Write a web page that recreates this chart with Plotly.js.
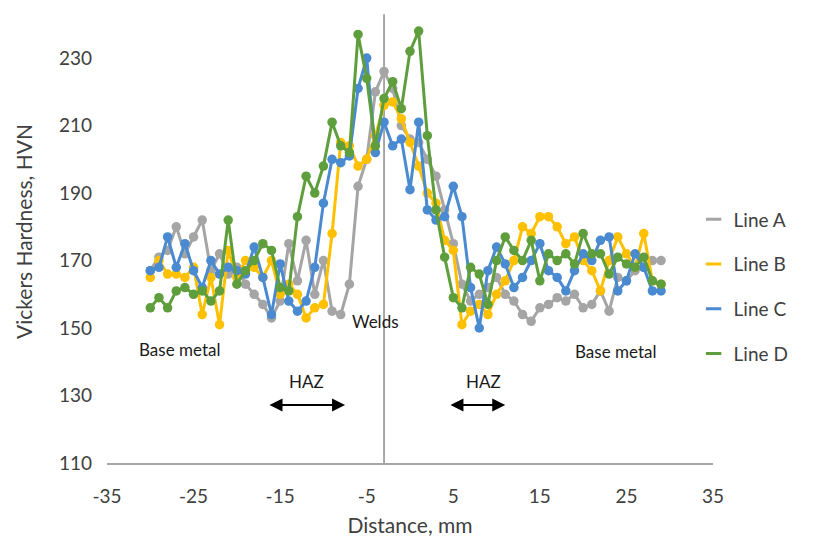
<!DOCTYPE html>
<html>
<head>
<meta charset="utf-8">
<script src="https://cdn.plot.ly/plotly-3.0.1.min.js"></script>
<style>html,body{margin:0;padding:0;background:#fff;}#chart{width:813px;height:546px;}</style>
</head>
<body>
<div id="chart"></div>
<script>
// Distance (mm) of every hardness indent
const distance = [-30,-29,-28,-27,-26,-25,-24,-23,-22,-21,-20,-19,-18,-17,-16,-15,-14,-13,-12,-11,-10,-9,-8,-7,-6,-5,-4,-3,-2,-1,0,1,2,3,4,5,6,7,8,9,10,11,12,13,14,15,16,17,18,19,20,21,22,23,24,25,26,27,28,29];

const lineA = [167,171,173,180,172,177,182,167,172,166,168,163,160,157,153,158,175,164,176,160,170,155,154,163,192,200,220,226,221,210,206,205,200,195,185,175,163,158,160,162,165,160,158,154,152,156,157,159,158,160,156,157,161,155,165,164,167,168,170,170];
const lineB = [165,170,166,166,165,168,154,165,151,173,165,170,168,165,170,160,163,160,153,156,157,178,205,204,198,200,207,216,217,212,205,198,190,187,176,173,151,155,157,154,160,164,170,180,178,183,183,180,175,177,170,167,161,170,177,172,168,178,164,163];
const lineC = [167,168,177,168,175,167,162,170,166,168,167,166,174,165,154,169,158,155,158,168,187,200,199,201,221,230,202,211,204,206,191,211,185,182,183,192,183,162,150,167,174,169,162,165,170,175,167,165,161,167,172,170,176,177,161,164,172,168,161,161];
const lineD = [156,159,156,161,162,160,161,158,161,182,163,167,170,175,173,162,161,183,195,190,198,211,204,202,237,224,204,218,223,215,232,238,207,185,171,159,156,168,166,157,170,177,173,170,176,164,172,170,172,169,178,172,172,166,171,169,168,171,164,163];

const seriesNames = ['Line A','Line B','Line C','Line D'];
const seriesValues = [lineA, lineB, lineC, lineD];
const seriesColors = ['#A5A5A5','#FFC000','#4A8AD0','#5E9E3C'];

const xTicks = [-35,-25,-15,-5,5,15,25,35];
const yTicks = [110,130,150,170,190,210,230];

const FONT = 'Lato, "Open Sans", sans-serif';

const traces = [];
seriesValues.forEach((vals, i) => {
  traces.push({
    x: distance, y: vals, type: 'scatter', mode: 'lines+markers',
    name: seriesNames[i], showlegend: false,
    line: {color: seriesColors[i], width: 3},
    marker: {color: seriesColors[i], size: 9.5, symbol: 'circle'},
    hoverinfo: 'x+y+name'
  });
});
// legend entries (short line keys)
seriesNames.forEach((n, i) => {
  traces.push({
    x: [null], y: [null], type: 'scatter', mode: 'markers', name: n,
    legendgroup: n, showlegend: true,
    marker: {symbol: 'line-ew', size: 11, color: seriesColors[i], line: {color: seriesColors[i], width: 3}}
  });
});

const annText = {size: 17, color: '#1a1a1a', family: FONT};
const layout = {
  width: 813, height: 546,
  margin: {l: 107, r: 100, t: 0, b: 83},
  paper_bgcolor: '#fff', plot_bgcolor: '#fff',
  font: {family: FONT, color: '#404040'},
  showlegend: true,
  legend: {x: 0.968, xanchor: 'left', y: 0.567, yanchor: 'top', traceorder: 'grouped', tracegroupgap: 17,
           font: {size: 19, color: '#404040', family: FONT}, bgcolor: 'rgba(0,0,0,0)'},
  xaxis: {range: [-35, 35], tickvals: xTicks, ticktext: xTicks.map(String), showgrid: false, zeroline: false,
          showline: true, linecolor: '#A6A6A6', linewidth: 1.5, ticks: '', ticklabelstandoff: 16,
          tickfont: {size: 19, color: '#404040'},
          title: {text: 'Distance, mm', font: {size: 21, color: '#404040'}, standoff: 12}},
  yaxis: {range: [110, 247.2], tickvals: yTicks, ticktext: yTicks.map(String), showgrid: false, zeroline: false,
          showline: false, ticks: '', ticklabelstandoff: 14,
          tickfont: {size: 19, color: '#404040'},
          title: {text: 'Vickers Hardness, HVN', font: {size: 21, color: '#404040'}, standoff: 20}},
  shapes: [{type: 'line', xref: 'x', yref: 'y', x0: -3, x1: -3, y0: 110, y1: 243, line: {color: '#8C8C8C', width: 1.5}, layer: 'below'}],
  annotations: [
    {x: -26.6, y: 143.5, xref: 'x', yref: 'y', text: 'Base metal', showarrow: false, font: annText},
    {x: 23.7, y: 142.9, xref: 'x', yref: 'y', text: 'Base metal', showarrow: false, font: annText},
    {x: -4.0, y: 151.8, xref: 'x', yref: 'y', text: 'Welds', showarrow: false, font: annText},
    {x: -11.9, y: 134.3, xref: 'x', yref: 'y', text: 'HAZ', showarrow: false, font: annText},
    {x: 8.5, y: 134.3, xref: 'x', yref: 'y', text: 'HAZ', showarrow: false, font: annText},
    {x: -7.5, y: 127.2, ax: -16.4, ay: 127.2, xref: 'x', yref: 'y', axref: 'x', ayref: 'y', text: '', showarrow: true,
     arrowhead: 2, arrowside: 'end+start', arrowsize: 1.3, arrowwidth: 2, arrowcolor: '#000'},
    {x: 11.0, y: 127.2, ax: 4.5, ay: 127.2, xref: 'x', yref: 'y', axref: 'x', ayref: 'y', text: '', showarrow: true,
     arrowhead: 2, arrowside: 'end+start', arrowsize: 1.3, arrowwidth: 2, arrowcolor: '#000'}
  ]
};

Plotly.newPlot('chart', traces, layout, {displayModeBar: false, staticPlot: true});
</script>
</body>
</html>
